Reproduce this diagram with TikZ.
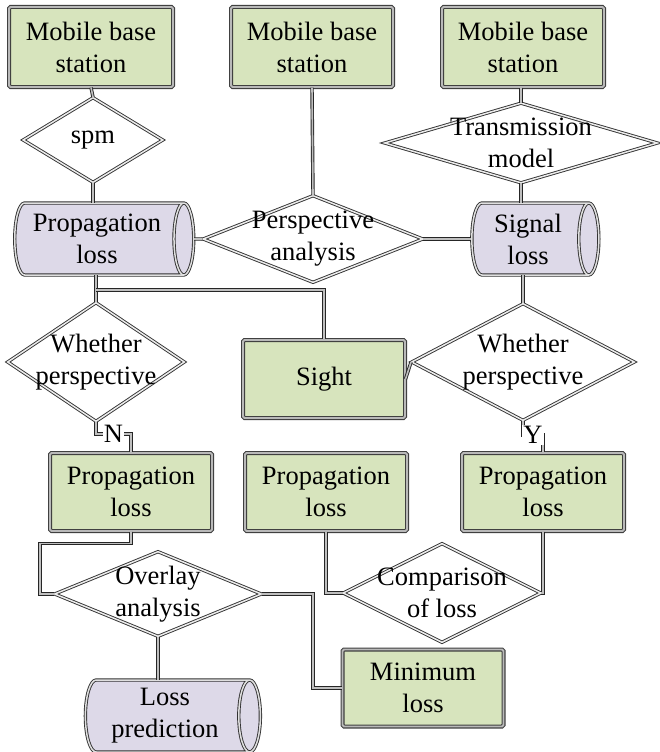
\documentclass[tikz,border=0pt]{standalone}
\usepackage{fontspec}
\setmainfont{Liberation Serif}
\usetikzlibrary{shapes.geometric,positioning}
\definecolor{boxgreen}{RGB}{215,228,189}
\definecolor{tanklav}{RGB}{221,217,232}

\begin{document}
\begin{tikzpicture}[
  x=1pt, y=-1pt,
  every node/.style={font=\fontsize{26.5}{32}\selectfont},
  box/.style={rectangle, draw=black!75, double=gray!55,
    double distance=1.8pt, line width=1.1pt, rounded corners=1.5pt,
    fill=boxgreen, minimum width=162pt, minimum height=78pt,
    align=center},
  tank/.style={cylinder, draw=black!80, double=gray!25,
    double distance=1.5pt, line width=0.9pt, fill=tanklav,
    shape aspect=0.35, minimum width=72pt, align=center},
  decide/.style={diamond, draw=black!80, double=gray!15,
    double distance=1.5pt, line width=0.9pt, fill=white, inner sep=0pt},
  dtext/.style={align=center, inner sep=0pt},
  link/.style={draw=black!85, double=gray!50, double distance=1.6pt,
    line width=0.9pt},
  yn/.style={fill=white, inner sep=1pt},
]
  \useasboundingbox (0,0) rectangle (659,752);

  % top row
  \node[box, minimum width=164pt, minimum height=80pt] (bs1) at (91,47)  {Mobile base\\station};
  \node[box, minimum width=162pt, minimum height=80pt] (bs2) at (312,47) {Mobile base\\station};
  \node[box, minimum width=162pt, minimum height=80pt] (bs3) at (523,47) {Mobile base\\station};

  \node[decide, minimum width=140pt, minimum height=85pt,
    label={[dtext]center:spm}] (spm) at (93,140) {};
  \node[decide, minimum width=273pt, minimum height=80pt,
    label={[dtext]center:Transmission\\model}] (trans) at (521,143) {};

  % loss stores
  \node[tank, minimum height=179pt] (pl1) at (97,239) {Propagation\\loss};
  \node[decide, minimum width=220pt, minimum height=87pt,
    label={[dtext]center:Perspective\\analysis}] (persp) at (313,239) {};
  \node[tank, minimum height=127pt] (sl) at (528,239) {Signal\\loss};

  % perspective checks
  \node[decide, minimum width=177pt, minimum height=119pt,
    label={[dtext]center:Whether\\perspective}] (wp1) at (96,362) {};
  \node[box, minimum height=78pt] (sight) at (324,379) {Sight};
  \node[decide, minimum width=223pt, minimum height=117pt,
    label={[dtext]center:Whether\\perspective}] (wp2) at (523,362) {};

  % bottom part
  \node[box] (pl2) at (131,492) {Propagation\\loss};
  \node[box] (pl3) at (326,492) {Propagation\\loss};
  \node[box] (pl4) at (543,492) {Propagation\\loss};

  \node[decide, minimum width=207pt, minimum height=85pt,
    label={[dtext]center:Overlay\\analysis}] (ov) at (158,594) {};
  \node[decide, minimum width=198pt, minimum height=99pt,
    label={[dtext]center:Comparison\\of loss}] (cmp) at (442,593) {};

  \node[box, minimum width=161pt, minimum height=77pt] (minl) at (423,688) {Minimum\\loss};
  \node[tank, minimum height=175pt] (lp) at (165,716) {Loss\\prediction};

  \coordinate (j1) at (96,290);
  \coordinate (c1) at (40,594);
  \coordinate (c2) at (313,688);

  \draw[link] (bs1.south) -- (spm.north);
  \draw[link] (bs2.south) -- (persp.north);
  \draw[link] (bs3.south -| trans.north) -- (trans.north);
  \draw[link] (spm.south) -- (spm.south |- pl1.north);
  \draw[link] (trans.south) -- (trans.south |- sl.north);
  \draw[link] (pl1.east) -- (persp.west);
  \draw[link] (persp.east) -- (sl.west);
  \draw[link] (sl.south -| wp2.north) -- (wp2.north);
  \draw[link] (j1 |- pl1.south) -- (wp1.north);
  \draw[link] (j1) -| (sight.north);
  \draw[link] (wp2.west) -- (sight.east);
  \draw[link] (wp1.south) -- ++(0,12) -| node[pos=0.25, yn] {N} (pl2.north);
  \draw[link] (wp2.south) -- ++(0,14) -| node[pos=0.25, yn] {Y} (pl4.north);
  \draw[link] (pl2.south) -- ++(0,12) -| (c1) -- (ov.west);
  \draw[link] (ov.east) -| (c2) -- (minl.west);
  \draw[link] (ov.south) -- (ov.south |- lp.north);
  \draw[link] (pl3.south) |- (cmp.west);
  \draw[link] (pl4.south) |- (cmp.east);
\end{tikzpicture}
\end{document}
